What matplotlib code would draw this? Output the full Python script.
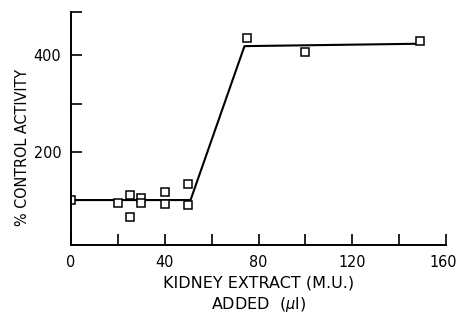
import matplotlib.pyplot as plt
import matplotlib.transforms as mtransforms
from matplotlib.ticker import FixedLocator

# measured points (kidney extract added vs % control activity)
extract = [0, 20, 25, 25, 30, 30, 40, 40, 50, 50, 75, 100, 149]
activity = [101, 93, 110, 64, 104, 94, 116, 92, 134, 89, 435, 407, 429]

# fitted broken line
fit_x = [0, 51, 74, 149]
fit_y = [100, 100, 419, 424]

plt.rcParams['font.family'] = ['DejaVu Sans']
plt.rcParams['font.stretch'] = 'condensed'

fig = plt.figure(figsize=(4.58, 3.21), dpi=100)
ax = fig.add_axes([0.155, 0.237, 0.819, 0.726])

ax.plot(fit_x, fit_y, color='black', lw=1.5)
ax.plot(extract, activity, 's', ms=6, mfc='white', mec='black', mew=1.1,
        linestyle='none')

ax.set_xlim(0, 160)
ax.set_ylim(7, 490)

ax.spines['top'].set_visible(False)
ax.spines['right'].set_visible(False)
ax.spines['left'].set_linewidth(1.4)
ax.spines['bottom'].set_linewidth(1.4)

ax.set_xticks([0, 40, 80, 120, 160])
ax.xaxis.set_minor_locator(FixedLocator([20, 60, 100, 140]))
ax.set_yticks([200, 400])
ax.yaxis.set_minor_locator(FixedLocator([300, 490]))
ax.tick_params(which='both', direction='in', length=8, width=1.2,
               labelsize=11.5, pad=7)

# last x tick label sits right at the figure edge, nudge it in a bit
last = ax.get_xticklabels()[-1]
last.set_transform(last.get_transform() +
                   mtransforms.ScaledTranslation(-3 / 100, 0, fig.dpi_scale_trans))

ax.set_ylabel('% CONTROL ACTIVITY', fontsize=11.5)
ax.yaxis.set_label_coords(-0.108, 0.42)
ax.set_xlabel('KIDNEY EXTRACT (M.U.)\nADDED  ($\\mu$l)', fontsize=11.5,
              fontstretch='normal', labelpad=4, linespacing=1.35)

fig.savefig('out.png', dpi=100)
